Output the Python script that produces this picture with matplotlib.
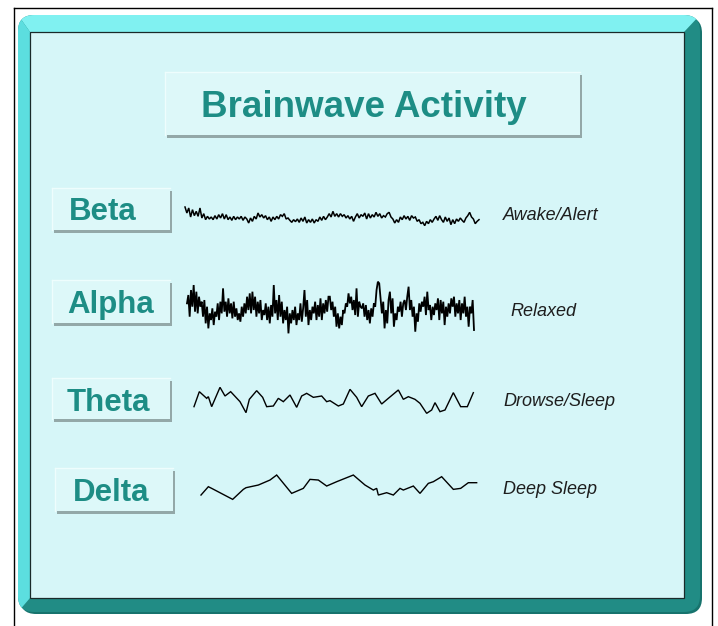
import numpy as np
import matplotlib
matplotlib.use("Agg")
import matplotlib.pyplot as plt
from matplotlib.patches import Rectangle, FancyBboxPatch, Polygon

# ---------------- data ----------------
title = "Brainwave Activity"
bands = ["Beta", "Alpha", "Theta", "Delta"]
states = ["Awake/Alert", "Relaxed", "Drowse/Sleep", "Deep Sleep"]

# Beta: amplitude samples (evenly spaced)
beta_vals = [33, 15, 30, 3, 25, 7, 20, 5, 30, 0, 13, -5, 5, -3, 3, -5, 7, -3, 10, 0,
             13, -3, 10, -5, 3, -7, 5, -5, 3, -3, 5, -7, 3, -3, -15, 0, -10, 5, -3, 15,
             3, 10, 0, 7, -5, 3, -10, 3, -5, 5, -3, 10, 5, 13, -3, 0, -7, -13, -5, -11,
             -3, -13, 0, -10, 3, -15, -5, -13, -3, -15, -5, -10, 3, -7, 5, -5, 3, 13, 3, 20,
             5, 13,
             3, 13, 5, 10, 0, 7, -3, 5, -10, 3, 13, 0, 10, 5, 15, -3, 13, 0, 10, 3,
             17, 5, 13, 0, 7, 3, 13, 17, 3, -3, -15, -5, -13, 3, -5, 7, -3, 5, -7, 7,
             0, 3, -10, -5, -17, -13, -23, -10, -17, -5, -13, -3, 5, -7, 7, -5, -13, 3, -10, 0,
             -20, -5, -17, -3, -10, 0, -7, -13, 0, 7, 17, 3, -3, -17, -10, -5]

# Alpha: amplitude samples (evenly spaced)
alpha_vals = [10, 35, -30, 50, 0, 65, -15, 45, -20, 30, 0, 15, -30, 20, -50, 0, -65, -20, -40, -5,
              -55, -15, -30, 10, -40, 15, -20, 55, -15, 15, -30, 25, -20, 10, -35, 15, -30, -5, -40, -20,
              -45, 0, -30, 10, -20, 30, -10, 40, -20, 45, -10, 30, -30, 15, -20, 20, -40, -10, -25, 10,
              -40, 0, -50, 5, -30, 65, -20, 20, -40, 35, -30, 15, -50, -10, -40, 0, -80, -20, -50, -10,
              -40, 0, -55, -20, -40, 10, -45, -5, 50, -30, 20, -55, -10, -40, 0, -20, 15, -40, 5, -30,
              25, -40, 10, -20, 20, -15, 30,
              30, -10, 15, -30, 0, -60, -20, -65, -30, -55, -10, -20, 10, 0, 40, 10, 30, -10, 20, -25,
              55, -30, 15, 0, -5, 10, -30, 5, -40, -10, -50, -5, -30, 10, 0, 50, 75, 70, 25, -20,
              15, -65, -10, -50, 20, 45, -20, 25, -60, -20, -40, 0, -15, 15, -30, 10, 20, -10, 30, 60,
              -10, 20, -30, 0, -75, -20, -45, 10, -15, 15, 0, 30, -25, 45, -10, 5, -40, 0, -25, 10,
              -10, 25, -40, 20, -20, 15, -55, 0, -30, 10, -20, 25, 0, 30, -30, 10, -20, 20, -40, 10,
              -20, 30, -30, 0, -60, 0, -20, 20, -70]

# Theta: (time, amplitude) vertices
theta_t = [462, 478, 500, 505, 515, 540, 555, 572, 600, 618, 628, 650, 668, 680, 700, 715,
           730, 750, 770, 785, 800, 820, 845, 860, 870, 895, 910, 930, 950, 965, 985, 1005,
           1025, 1045, 1075, 1090, 1105, 1125, 1140, 1160, 1175, 1185, 1200, 1215, 1240, 1262,
           1282, 1300]
theta_v = [-20, 25, 5, 10, -20, 38, 12, 25, -5, -38, 2, 28, 8, -20, -18, 5,
           -5, 15, -22, 12, 20, 8, 12, -5, -2, -18, -12, 32, 8, -20, 12, 20,
           -12, 5, 30, 2, 10, 2, -10, -40, -30, -8, -35, -30, 22, -20,
           -20, 22]

# Delta: (time, amplitude) vertices
delta_t = [483, 505, 515, 578, 610, 618, 655, 690, 710, 755, 790, 810, 835, 860, 890, 940,
           975, 1000, 1010, 1015, 1040, 1060, 1080, 1090, 1120, 1140, 1165, 1180, 1205, 1240,
           1262, 1285, 1310]
delta_v = [-25, 0, -5, -38, -8, -3, 5, 20, 35, -20, -5, 22, 20, 2, 15, 35,
           5, -10, -5, -25, -18, -25, -5, -10, 2, -20, 10, 15, 30, -8,
           -5, 12, 12]

# ---------------- figure ----------------
W, H = 718, 626
fig = plt.figure(figsize=(W / 100, H / 100), dpi=100)
fig.patch.set_facecolor("white")
ax = fig.add_axes([0, 0, 1, 1])
ax.set_xlim(0, W)
ax.set_ylim(H, 0)
ax.axis("off")

# outer thin black frame lines
ax.plot([14, 14], [8, H], color="black", lw=1.0)
ax.plot([14, 712], [8, 8], color="black", lw=1.0)
ax.plot([712, 712], [8, H], color="black", lw=1.0)

# teal bevelled frame
ox0, oy0, ox1, oy1 = 18, 15, 700, 612
ix0, iy0, ix1, iy1 = 30, 32, 684, 598
shadow = FancyBboxPatch((ox0 + 2, oy0 + 2), ox1 - ox0, oy1 - oy0,
                        boxstyle="round,pad=0,rounding_size=16",
                        fc="#17736d", ec="none", zorder=1)
ax.add_patch(shadow)
outer = FancyBboxPatch((ox0, oy0), ox1 - ox0, oy1 - oy0,
                       boxstyle="round,pad=0,rounding_size=16",
                       fc="#218c85", ec="none", zorder=2)
ax.add_patch(outer)
top_band = Polygon([(ox0, oy0), (ox1, oy0), (ix1, iy0), (ix0, iy0)],
                   closed=True, fc="#80f1f1", ec="none", zorder=3)
left_band = Polygon([(ox0, oy0), (ix0, iy0), (ix0, iy1), (ox0, oy1)],
                    closed=True, fc="#5cdedf", ec="none", zorder=3)
for p in (top_band, left_band):
    ax.add_patch(p)
    p.set_clip_path(outer)

# inner panel
ax.add_patch(Rectangle((ix0, iy0), ix1 - ix0, iy1 - iy0, fc="#d6f6f8",
                       ec="#1a2a2a", lw=0.9, zorder=4))

teal = "#1d8d85"


def shadow_box(x0, y0, x1, y1, z=5):
    ax.add_patch(Rectangle((x0 + 2, y0 + 3), x1 - x0, y1 - y0, fc="#93a8a8",
                           ec="none", zorder=z))
    ax.add_patch(Rectangle((x0, y0), x1 - x0, y1 - y0, fc="#ddf8f9",
                           ec="none", zorder=z + 0.1))
    ax.plot([x0, x1], [y0, y0], color="#eefdfd", lw=1.0, zorder=z + 0.2)
    ax.plot([x0, x0], [y0, y1], color="#eefdfd", lw=1.0, zorder=z + 0.2)


# title box
shadow_box(165, 72, 580, 135)
ax.text(364, 117, title, ha="center", va="baseline", fontsize=26.5,
        fontweight="bold", color=teal, family="Liberation Sans", zorder=8)

# band label boxes
label_boxes = [(52, 188, 170, 230), (52, 280, 170, 323), (52, 378, 170, 419), (55, 468, 173, 511)]
label_x = [69, 67, 67, 73]
label_base = [220, 313, 411, 501]
for (x0, y0, x1, y1), name, lx, lb in zip(label_boxes, bands, label_x, label_base):
    shadow_box(x0, y0, x1, y1)
    ax.text(lx, lb, name, ha="left", va="baseline", fontsize=22.5,
            fontweight="bold", color=teal, family="Liberation Sans", zorder=8)

# state labels
state_x = [503, 510, 503, 503]
state_y = [216, 312, 401, 490]
for s, sx, sy in zip(states, state_x, state_y):
    ax.text(sx, sy, s, ha="left", va="center", fontsize=13, style="italic",
            color="#1e1e1e", family="Liberation Sans", zorder=8)


# waves: each on its own small axes, zoom units -> 3 units per pixel
def wave_axes(x0, x1, yc, half_px, t, v, lw):
    a = fig.add_axes([x0 / W, 1 - (yc + half_px) / H, (x1 - x0) / W, 2 * half_px / H])
    a.set_xlim(t[0], t[-1])
    a.set_ylim(-3 * half_px, 3 * half_px)
    a.axis("off")
    a.patch.set_alpha(0)
    a.plot(t, v, color="black", lw=lw, solid_joinstyle="miter", clip_on=False)
    return a


wave_axes(185, 479, 218, 20, np.arange(len(beta_vals)), beta_vals, 1.1)
wave_axes(187, 474, 306.7, 35, np.arange(len(alpha_vals)), alpha_vals, 1.3)
wave_axes(40 + theta_t[0] / 3, 40 + theta_t[-1] / 3, 400, 20, theta_t, theta_v, 1.0)
wave_axes(40 + delta_t[0] / 3, 40 + delta_t[-1] / 3, 486.7, 20, delta_t, delta_v, 1.0)

fig.savefig("out.png", dpi=100, facecolor="white")
